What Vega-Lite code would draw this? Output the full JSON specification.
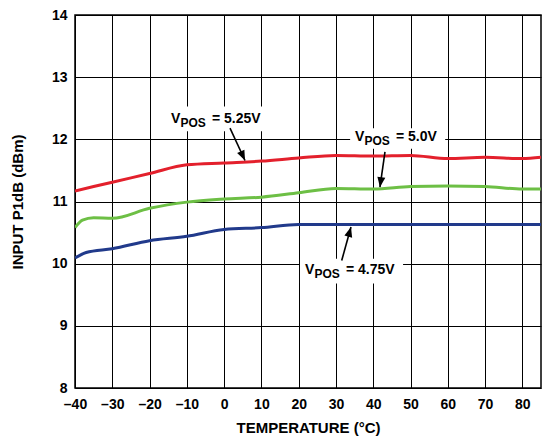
{
  "$schema": "https://vega.github.io/schema/vega-lite/v6.json",
  "width": 466,
  "height": 373,
  "autosize": {"type": "none"},
  "padding": {"left": 75, "top": 15, "right": 2, "bottom": 51},
  "background": "white",
  "config": {
    "font": "Liberation Sans",
    "view": {"stroke": "black", "strokeWidth": 1.5},
    "axis": {
      "grid": true, "gridColor": "black", "gridOpacity": 1, "gridWidth": 1,
      "domain": false, "ticks": false,
      "labelFont": "Liberation Sans", "labelFontWeight": "bold", "labelFontSize": 14, "labelColor": "black",
      "titleFont": "Liberation Sans", "titleFontWeight": "bold", "titleFontSize": 15, "titleColor": "black"
    },
    "axisX": {"tickCount": 13, "labelPadding": 9, "titlePadding": 9, "labelFlush": false,
              "labelExpr": "datum.value < 0 ? '–' + abs(datum.value) : '' + datum.value"},
    "axisY": {"tickCount": 6, "format": "d", "labelPadding": 8, "titlePadding": 26}
  },
  "datasets": {
    "curves": [
      {"temp": -40, "p1db": 11.17, "vpos": "5.25V"},
      {"temp": -30, "p1db": 11.31, "vpos": "5.25V"},
      {"temp": -20, "p1db": 11.45, "vpos": "5.25V"},
      {"temp": -10, "p1db": 11.59, "vpos": "5.25V"},
      {"temp": 0, "p1db": 11.62, "vpos": "5.25V"},
      {"temp": 10, "p1db": 11.65, "vpos": "5.25V"},
      {"temp": 20, "p1db": 11.70, "vpos": "5.25V"},
      {"temp": 30, "p1db": 11.74, "vpos": "5.25V"},
      {"temp": 40, "p1db": 11.73, "vpos": "5.25V"},
      {"temp": 50, "p1db": 11.74, "vpos": "5.25V"},
      {"temp": 60, "p1db": 11.69, "vpos": "5.25V"},
      {"temp": 70, "p1db": 11.71, "vpos": "5.25V"},
      {"temp": 80, "p1db": 11.69, "vpos": "5.25V"},
      {"temp": 85, "p1db": 11.71, "vpos": "5.25V"},
      {"temp": -40, "p1db": 10.58, "vpos": "5.0V"},
      {"temp": -38, "p1db": 10.70, "vpos": "5.0V"},
      {"temp": -35, "p1db": 10.74, "vpos": "5.0V"},
      {"temp": -30, "p1db": 10.73, "vpos": "5.0V"},
      {"temp": -20, "p1db": 10.89, "vpos": "5.0V"},
      {"temp": -10, "p1db": 10.99, "vpos": "5.0V"},
      {"temp": 0, "p1db": 11.04, "vpos": "5.0V"},
      {"temp": 10, "p1db": 11.07, "vpos": "5.0V"},
      {"temp": 20, "p1db": 11.14, "vpos": "5.0V"},
      {"temp": 30, "p1db": 11.21, "vpos": "5.0V"},
      {"temp": 40, "p1db": 11.20, "vpos": "5.0V"},
      {"temp": 50, "p1db": 11.24, "vpos": "5.0V"},
      {"temp": 60, "p1db": 11.25, "vpos": "5.0V"},
      {"temp": 70, "p1db": 11.24, "vpos": "5.0V"},
      {"temp": 80, "p1db": 11.20, "vpos": "5.0V"},
      {"temp": 85, "p1db": 11.20, "vpos": "5.0V"},
      {"temp": -40, "p1db": 10.09, "vpos": "4.75V"},
      {"temp": -37, "p1db": 10.18, "vpos": "4.75V"},
      {"temp": -30, "p1db": 10.24, "vpos": "4.75V"},
      {"temp": -20, "p1db": 10.37, "vpos": "4.75V"},
      {"temp": -10, "p1db": 10.44, "vpos": "4.75V"},
      {"temp": 0, "p1db": 10.55, "vpos": "4.75V"},
      {"temp": 10, "p1db": 10.58, "vpos": "4.75V"},
      {"temp": 20, "p1db": 10.63, "vpos": "4.75V"},
      {"temp": 30, "p1db": 10.63, "vpos": "4.75V"},
      {"temp": 40, "p1db": 10.63, "vpos": "4.75V"},
      {"temp": 50, "p1db": 10.63, "vpos": "4.75V"},
      {"temp": 60, "p1db": 10.63, "vpos": "4.75V"},
      {"temp": 70, "p1db": 10.63, "vpos": "4.75V"},
      {"temp": 80, "p1db": 10.63, "vpos": "4.75V"},
      {"temp": 85, "p1db": 10.63, "vpos": "4.75V"}
    ],
    "labels": [
      {"vpos": "5.25V", "text": "= 5.25V", "tx": -14.25, "ty": 12.26, "bx1": -15.3, "bx2": 11.0, "by1": 12.53, "by2": 12.13, "ax1": 1.58, "ay1": 12.18, "ax2": 5.6, "ay2": 11.66, "heading": 155},
      {"vpos": "5.0V", "text": "= 5.0V", "tx": 35.1, "ty": 11.97, "bx1": 33.8, "bx2": 59.3, "by1": 12.18, "by2": 11.85, "ax1": 43.15, "ay1": 11.80, "ax2": 41.8, "ay2": 11.23, "heading": 188},
      {"vpos": "4.75V", "text": "= 4.75V", "tx": 21.7, "ty": 9.83, "bx1": 20.35, "bx2": 48.0, "by1": 10.08, "by2": 9.68, "ax1": 31.54, "ay1": 10.05, "ax2": 34.03, "ay2": 10.59, "heading": 15.6}
    ]
  },
  "layer": [
    {
      "data": {"name": "labels"},
      "mark": {"type": "rect", "fill": "white", "stroke": null},
      "encoding": {
        "x": {"field": "bx1", "type": "quantitative", "scale": {"domain": [-40, 85], "nice": false, "zero": false},
              "title": "TEMPERATURE (°C)"},
        "x2": {"field": "bx2"},
        "y": {"field": "by1", "type": "quantitative", "scale": {"domain": [8, 14], "nice": false, "zero": false},
              "title": "INPUT P1dB (dBm)"},
        "y2": {"field": "by2"}
      }
    },
    {
      "data": {"name": "curves"},
      "mark": {"type": "line", "strokeWidth": 3, "interpolate": "monotone", "clip": true},
      "encoding": {
        "x": {"field": "temp", "type": "quantitative"},
        "y": {"field": "p1db", "type": "quantitative"},
        "color": {"field": "vpos", "type": "nominal",
                  "scale": {"domain": ["5.25V", "5.0V", "4.75V"], "range": ["#e3202c", "#6dbf45", "#213a8b"]},
                  "legend": null}
      }
    },
    {
      "data": {"name": "labels"},
      "mark": {"type": "rule", "strokeWidth": 1.6, "color": "black"},
      "encoding": {
        "x": {"field": "ax1", "type": "quantitative"},
        "y": {"field": "ay1", "type": "quantitative"},
        "x2": {"field": "ax2"},
        "y2": {"field": "ay2"}
      }
    },
    {
      "data": {"name": "labels"},
      "mark": {"type": "point", "shape": "M0,0L-0.4,1L0.4,1Z", "filled": true, "color": "black", "size": 400, "opacity": 1},
      "encoding": {
        "x": {"field": "ax2", "type": "quantitative"},
        "y": {"field": "ay2", "type": "quantitative"},
        "angle": {"field": "heading", "type": "quantitative", "scale": null}
      }
    },
    {
      "data": {"name": "labels"},
      "mark": {"type": "text", "align": "left", "baseline": "alphabetic", "fontSize": 14, "fontWeight": "bold", "font": "Liberation Sans", "color": "black"},
      "encoding": {
        "x": {"field": "tx", "type": "quantitative"},
        "y": {"field": "ty", "type": "quantitative"},
        "text": {"value": "V"}
      }
    },
    {
      "data": {"name": "labels"},
      "mark": {"type": "text", "align": "left", "baseline": "alphabetic", "fontSize": 12, "fontWeight": "bold", "font": "Liberation Sans", "color": "black", "dx": 9.5, "dy": 4},
      "encoding": {
        "x": {"field": "tx", "type": "quantitative"},
        "y": {"field": "ty", "type": "quantitative"},
        "text": {"value": "POS"}
      }
    },
    {
      "data": {"name": "labels"},
      "mark": {"type": "text", "align": "left", "baseline": "alphabetic", "fontSize": 14, "fontWeight": "bold", "font": "Liberation Sans", "color": "black", "dx": 41},
      "encoding": {
        "x": {"field": "tx", "type": "quantitative"},
        "y": {"field": "ty", "type": "quantitative"},
        "text": {"field": "text"}
      }
    }
  ]
}
